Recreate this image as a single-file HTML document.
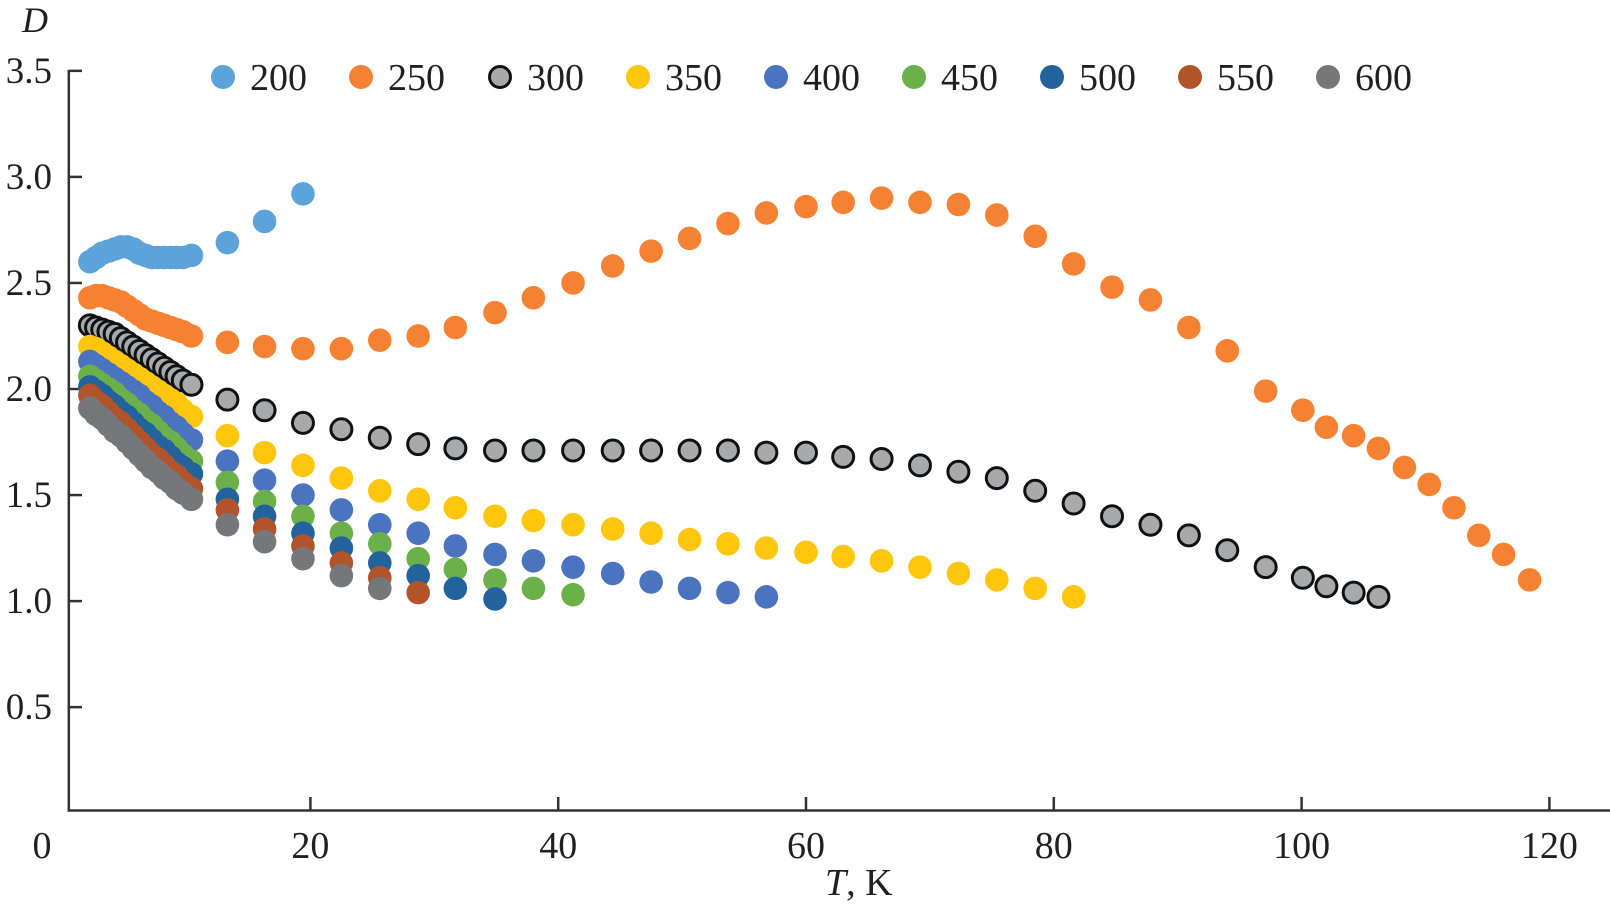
<!DOCTYPE html>
<html><head><meta charset="utf-8"><style>
body{margin:0;background:#fff}
svg text{font-family:"Liberation Serif",serif;fill:#231f20}
</style></head><body>
<svg id="chart" width="1610" height="910" viewBox="0 0 1610 910">
<g id="axes"></g>
<g id="marks"></g>
<g id="legend"></g>
</svg>
<script>
const denseT=[2.2,2.7,3.2,3.7,4.2,4.7,5.2,5.7,6.2,6.7,7.2,7.7,8.2,8.7,9.2,9.7,10.4];
const sparseT=[13.3,16.3,19.4,22.5,25.6,28.7,31.7,34.9,38,41.2,44.4,47.5,50.6,53.7,56.8,60,63,66.1,69.2,72.3,75.4,78.5,81.6,84.7,87.8,90.9,94,97.1,100.1,102,104.2,106.2,108.3,110.3,112.3,114.3,116.3,118.4];
const seriesNames=["200","250","300","350","400","450","500","550","600"];
const dense200=[2.60,2.62,2.64,2.65,2.66,2.67,2.67,2.66,2.64,2.63,2.62,2.62,2.62,2.62,2.62,2.62,2.63];
const sparse200=[2.69,2.79,2.92];
const dense250=[2.43,2.44,2.44,2.43,2.42,2.41,2.39,2.37,2.35,2.33,2.32,2.31,2.30,2.29,2.28,2.27,2.25];
const sparse250=[2.22,2.20,2.19,2.19,2.23,2.25,2.29,2.36,2.43,2.50,2.58,2.65,2.71,2.78,2.83,2.86,2.88,2.90,2.88,2.87,2.82,2.72,2.59,2.48,2.42,2.29,2.18,1.99,1.90,1.82,1.78,1.72,1.63,1.55,1.44,1.31,1.22,1.10];
const dense300=[2.30,2.29,2.28,2.27,2.26,2.24,2.22,2.20,2.18,2.16,2.14,2.12,2.10,2.08,2.06,2.04,2.02];
const sparse300=[1.95,1.90,1.84,1.81,1.77,1.74,1.72,1.71,1.71,1.71,1.71,1.71,1.71,1.71,1.70,1.70,1.68,1.67,1.64,1.61,1.58,1.52,1.46,1.40,1.36,1.31,1.24,1.16,1.11,1.07,1.04,1.02];
const dense350=[2.20,2.19,2.17,2.15,2.13,2.11,2.09,2.07,2.05,2.03,2.01,1.99,1.97,1.95,1.93,1.90,1.87];
const sparse350=[1.78,1.70,1.64,1.58,1.52,1.48,1.44,1.40,1.38,1.36,1.34,1.32,1.29,1.27,1.25,1.23,1.21,1.19,1.16,1.13,1.10,1.06,1.02];
const dense400=[2.13,2.11,2.09,2.07,2.05,2.03,2.01,1.99,1.97,1.94,1.92,1.89,1.87,1.84,1.82,1.79,1.76];
const sparse400=[1.66,1.57,1.50,1.43,1.36,1.32,1.26,1.22,1.19,1.16,1.13,1.09,1.06,1.04,1.02];
const dense450=[2.06,2.04,2.02,2.00,1.98,1.95,1.93,1.90,1.88,1.85,1.83,1.80,1.77,1.75,1.72,1.69,1.66];
const sparse450=[1.56,1.47,1.40,1.32,1.27,1.20,1.15,1.10,1.06,1.03];
const dense500=[2.01,1.99,1.97,1.94,1.92,1.89,1.87,1.84,1.81,1.79,1.76,1.73,1.71,1.68,1.65,1.63,1.60];
const sparse500=[1.48,1.40,1.32,1.25,1.18,1.12,1.06,1.01];
const dense550=[1.97,1.94,1.92,1.89,1.86,1.84,1.81,1.78,1.75,1.72,1.69,1.67,1.64,1.61,1.59,1.56,1.53];
const sparse550=[1.43,1.34,1.26,1.18,1.11,1.04];
const dense600=[1.91,1.88,1.86,1.83,1.80,1.78,1.75,1.72,1.69,1.66,1.63,1.61,1.58,1.56,1.53,1.51,1.48];
const sparse600=[1.36,1.28,1.20,1.12,1.06];
const xTicks=[0,20,40,60,80,100,120];
const yTicks=[0.5,1.0,1.5,2.0,2.5,3.0,3.5];

const NS="http://www.w3.org/2000/svg";
const X0=62.6,XS=12.39,Y0=813.2,YS=212.1;
const xs=t=>X0+t*XS, ys=d=>Y0-d*YS;
function mk(tag,attrs,parent){const e=document.createElementNS(NS,tag);for(const k in attrs)e.setAttribute(k,attrs[k]);parent.appendChild(e);return e;}
const axes=document.getElementById('axes'),marks=document.getElementById('marks'),legend=document.getElementById('legend');
const styles=[
 {fill:"#5ba3da"},{fill:"#f58232"},{fill:"#a8a9ab",stroke:"#111",sw:3},{fill:"#ffc60b"},
 {fill:"#4a74c0"},{fill:"#6cb04a"},{fill:"#22639e"},{fill:"#b3532a"},{fill:"#76777a"}];
const denseAll=[dense200,dense250,dense300,dense350,dense400,dense450,dense500,dense550,dense600];
const sparseAll=[sparse200,sparse250,sparse300,sparse350,sparse400,sparse450,sparse500,sparse550,sparse600];

// axes
let l=mk('line',{x1:68.8,y1:70,x2:68.8,y2:811,stroke:"#333","stroke-width":2.5},axes);


l=mk('line',{x1:67.5,y1:810.5,x2:1610,y2:810.5,stroke:"#333","stroke-width":2.5},axes);


yTicks.forEach(v=>{
 const y=ys(v);
 const t=mk('line',{x1:68.8,y1:y,x2:82,y2:y,stroke:"#333","stroke-width":2.5},axes);
 
 
 const tx=mk('text',{x:52,y:y+12,"font-size":37,"text-anchor":"end"},axes);
 tx.textContent=v.toFixed(1);
 
 
});
xTicks.forEach(v=>{
 const x=xs(v);
 if(v>0){
 const t=mk('line',{x1:x,y1:797,x2:x,y2:811,stroke:"#333","stroke-width":2.5},axes);
 
 }
 const tx=mk('text',{x:v===0?42:x,y:858,"font-size":38,"text-anchor":"middle"},axes);
 tx.textContent=v;
 
 
});
let t1=mk('text',{x:825,y:895,"font-size":38},axes);
t1.innerHTML='<tspan font-style="italic">T</tspan>, K';


t1=mk('text',{x:22,y:32,"font-size":36,"font-style":"italic"},axes);
t1.textContent='D';



// data
seriesNames.forEach((n,i)=>{
 const g=mk('g',{},marks);
 
 
 const st=styles[i];
 const pts=[];
 denseAll[i].forEach((d,j)=>pts.push([denseT[j],d]));
 sparseAll[i].forEach((d,j)=>pts.push([sparseT[j],d]));
 pts.forEach(p=>{
  const c=mk('circle',{cx:xs(p[0]),cy:ys(p[1]),r:st.stroke?10.5:11.8,fill:st.fill},g);
  if(st.stroke){c.setAttribute('stroke',st.stroke);c.setAttribute('stroke-width',st.sw);}
  
  
 });
});

// legend
const legX=[223,361,500,638,776,914,1052,1190,1328];
seriesNames.forEach((n,i)=>{
 const g=mk('g',{},legend);
 
 
 const st=styles[i];
 const c=mk('circle',{cx:legX[i],cy:77,r:st.stroke?10.5:12,fill:st.fill},g);
 if(st.stroke){c.setAttribute('stroke',st.stroke);c.setAttribute('stroke-width',st.sw);}
 const tx=mk('text',{x:legX[i]+27,y:90,"font-size":38},g);
 tx.textContent=n;
});
</script>
</body></html>
